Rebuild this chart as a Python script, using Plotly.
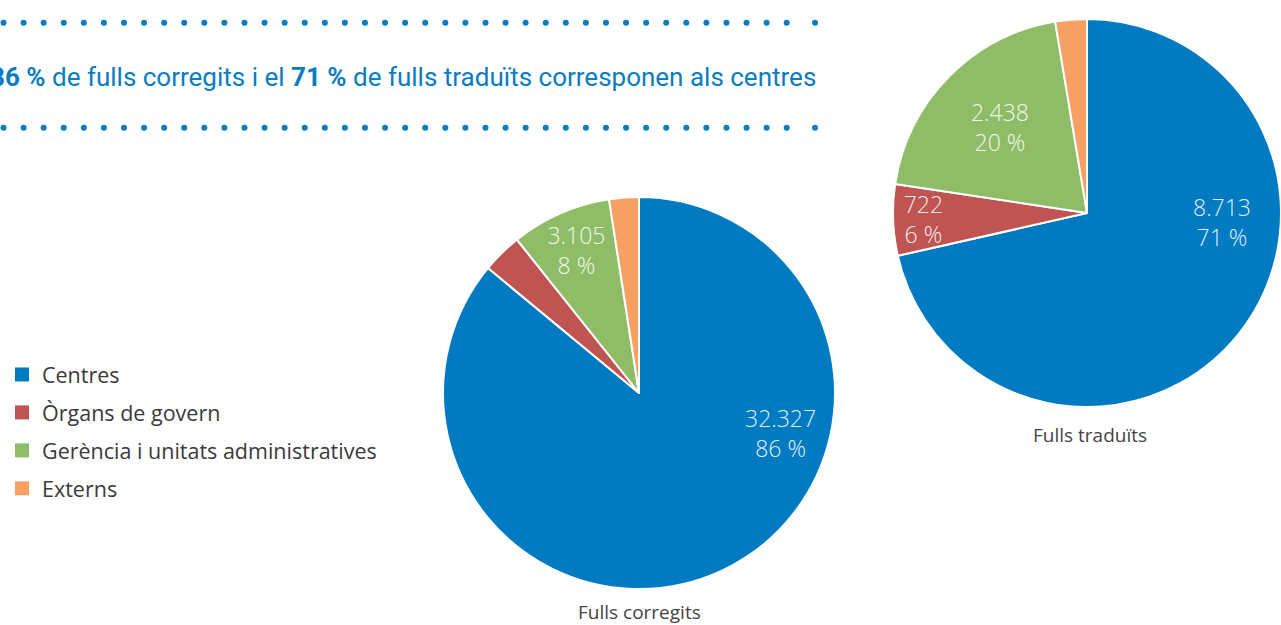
import numpy as np
import plotly.graph_objects as go

# Categories and sheet counts per origin
categories = ["Centres", "Òrgans de govern", "Gerència i unitats administratives", "Externs"]
colors = ["#007BC2", "#C05453", "#8FBD67", "#F7A063"]
fulls_corregits = [32327, 1240, 3105, 918]
fulls_traduits = [8713, 722, 2438, 320]
titles = ["Fulls corregits", "Fulls traduïts"]
headline = ("<b>86 %</b> de fulls corregits i el <b>71 %</b> "
            "de fulls traduïts corresponen als centres")

W, H = 1281, 625
BLUE = "#0A7CC1"
FONT = "'Open Sans', 'Liberation Sans', Arial, sans-serif"
LABEL_COLOR = "rgba(255,255,255,0.9)"


def slice_text(values, min_pct=5):
    total = sum(values)
    out = []
    for v in values:
        pct = round(v / total * 100)
        if pct >= min_pct:
            out.append(f"{v:,}".replace(",", ".") + f"<br>{pct} %")
        else:
            out.append("")
    return out


fig = go.Figure()

# dotted rules framing the headline
for y in (22.7, 127.7):
    xs = list(np.linspace(3.5, 786.7, 40)) + [815]
    fig.add_trace(go.Scatter(
        x=xs, y=[y] * len(xs), mode="markers",
        marker=dict(size=6, color=BLUE), showlegend=False, hoverinfo="skip"))

# pie placement: (values, title, domain x, domain y, title pos, big-slice label pos)
pies = [
    (fulls_corregits, titles[0], [443 / W, 835 / W], [1 - 589 / H, 1 - 197 / H],
     (639, 612), (780, 433)),
    (fulls_traduits, titles[1], [893 / W, 1.0], [1 - 409 / H, 1 - 17 / H],
     (1090, 435), (1222, 222)),
]
for values, title, dx, dy, tpos, lpos in pies:
    texts = slice_text(values)
    big_label = texts[0]
    texts[0] = ""
    fig.add_trace(go.Pie(
        labels=categories, values=values, sort=False, direction="clockwise",
        rotation=0, marker=dict(colors=colors, line=dict(color="white", width=2)),
        text=texts, textinfo="text", textposition="inside",
        insidetextorientation="horizontal",
        textfont=dict(family=FONT, size=23, color=LABEL_COLOR, weight=300),
        domain=dict(x=dx, y=dy), showlegend=False, hoverinfo="label+value+percent"))
    fig.add_annotation(x=lpos[0], y=lpos[1], xref="x", yref="y", text=big_label,
                       showarrow=False,
                       font=dict(family=FONT, size=23, color=LABEL_COLOR, weight=300))
    fig.add_annotation(x=tpos[0], y=tpos[1], xref="x", yref="y", text=title,
                       showarrow=False,
                       font=dict(family=FONT, size=19, color="#444444"))

# legend entries, one group each so the rows can be spaced apart
for i, (cat, col) in enumerate(zip(categories, colors)):
    fig.add_trace(go.Scatter(
        x=[None], y=[None], mode="markers", name=cat, legendgroup=f"g{i}",
        marker=dict(symbol="square", size=14, color=col)))

fig.add_annotation(
    x=818, y=77, xref="x", yref="y", xanchor="right", yanchor="middle",
    text=headline, showarrow=False,
    font=dict(family="Roboto, sans-serif", size=26, color=BLUE))

fig.update_layout(
    width=W, height=H, margin=dict(l=0, r=0, t=0, b=0),
    paper_bgcolor="white", plot_bgcolor="white",
    uniformtext=dict(minsize=23, mode="show"),
    xaxis=dict(range=[0, W], visible=False, domain=[0, 1], fixedrange=True),
    yaxis=dict(range=[H, 0], visible=False, domain=[0, 1], fixedrange=True),
    legend=dict(x=2 / W, y=1 - 354 / H, xanchor="left", yanchor="top",
                traceorder="grouped", tracegroupgap=7,
                font=dict(family=FONT, size=21.5, color="#3A3A3A"),
                bgcolor="rgba(0,0,0,0)"),
    showlegend=True,
)

fig.write_html("out.html")
